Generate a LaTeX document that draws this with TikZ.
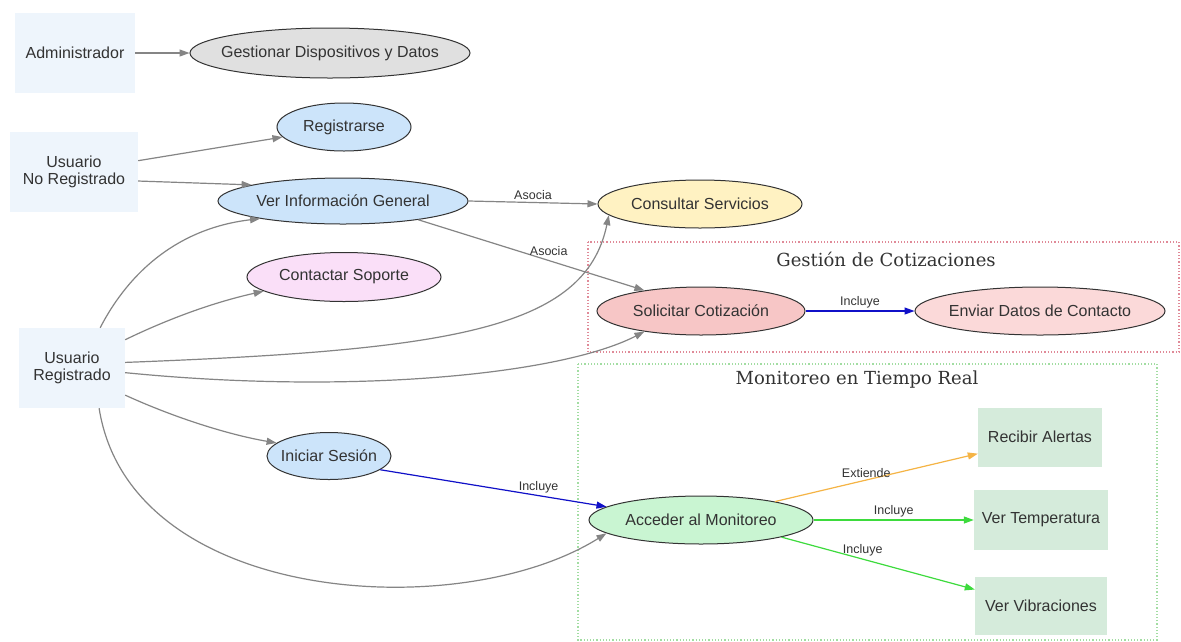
\documentclass[tikz,border=0pt]{standalone}
\usepackage{fontspec}
\setmainfont{Liberation Sans}
\newfontfamily\titlefont{DejaVu Serif}
\usetikzlibrary{shapes.geometric,arrows.meta}
\definecolor{actorfill}{HTML}{EEF5FC}
\definecolor{bluefill}{HTML}{CCE4FA}
\definecolor{grayfill}{HTML}{E0E0E0}
\definecolor{yellowfill}{HTML}{FFF2C2}
\definecolor{lilacfill}{HTML}{FADFF8}
\definecolor{redfill}{HTML}{F7C6C6}
\definecolor{pinkfill}{HTML}{FBD9D9}
\definecolor{greenfill}{HTML}{C9F5D2}
\definecolor{boxgreen}{HTML}{D5EBDB}
\definecolor{edgegray}{HTML}{858585}
\definecolor{edgeblue}{HTML}{1010C8}
\definecolor{edgeorange}{HTML}{F5B445}
\definecolor{edgegreen}{HTML}{3DDB3D}
\definecolor{clred}{HTML}{E08A98}
\definecolor{clgreen}{HTML}{A2DDA2}
\definecolor{ellborder}{HTML}{333333}
\definecolor{txt}{HTML}{333333}
\tikzset{
  nodetext/.style={font=\fontsize{16}{17.5}\selectfont, text=txt, align=center},
  actor/.style={nodetext, rectangle, fill=actorfill, inner sep=0pt},
  usecase/.style={nodetext, ellipse, draw=ellborder, line width=1pt, inner xsep=-60pt, inner ysep=-8pt},
  gbox/.style={nodetext, rectangle, fill=boxgreen, inner sep=0pt},
  conn/.style={line width=1.2pt, -{Triangle[length=10pt,width=7pt]}},
  gray conn/.style={conn, draw=edgegray},
  blue conn/.style={conn, draw=edgeblue},
  orange conn/.style={conn, draw=edgeorange},
  green conn/.style={conn, draw=edgegreen},
  elabel/.style={font=\fontsize{12.5}{14}\selectfont, text=txt, inner sep=2pt},
  cluster/.style={line width=1.2pt, dotted},
  cltitle/.style={font=\titlefont\fontsize{18}{20}\selectfont, text=txt}
}
\begin{document}
\begin{tikzpicture}[x=1pt,y=-1pt]
\useasboundingbox[fill=white] (0,0) rectangle (1181,641);

% clusters
\draw[cluster, draw=clred] (588,242) rectangle (1179,352);
\node[cltitle] (t1) at (886,259) {Gestión de Cotizaciones};
\draw[cluster, draw=clgreen] (578,364) rectangle (1157,640);
\node[cltitle] (t2) at (857,380) {Monitoreo en Tiempo Real};

% actors
\node[actor, minimum width=120pt, minimum height=80pt] (adm) at (75,53) {Administrador};
\node[actor, minimum width=128pt, minimum height=80pt] (unr) at (74,172) {Usuario\\No Registrado};
\node[actor, minimum width=106pt, minimum height=80pt] (ur) at (72,368) {Usuario\\Registrado};

% use cases
\node[usecase, fill=grayfill, minimum width=280pt, minimum height=50pt] (gest) at (330,53) {Gestionar Dispositivos y Datos};
\node[usecase, fill=bluefill, minimum width=134pt, minimum height=48pt] (reg) at (344,127) {Registrarse};
\node[usecase, fill=bluefill, minimum width=250pt, minimum height=46pt] (vi) at (343,201) {Ver Información General};
\node[usecase, fill=yellowfill, minimum width=204pt, minimum height=48pt] (cons) at (700,204) {Consultar Servicios};
\node[usecase, fill=lilacfill, minimum width=194pt, minimum height=49pt] (cs) at (344,277) {Contactar Soporte};
\node[usecase, fill=redfill, minimum width=208pt, minimum height=48pt] (sol) at (701,311) {Solicitar Cotización};
\node[usecase, fill=pinkfill, minimum width=250pt, minimum height=48pt] (env) at (1040,311) {Enviar Datos de Contacto};
\node[usecase, fill=bluefill, minimum width=124pt, minimum height=47pt] (ini) at (329,456) {Iniciar Sesión};
\node[usecase, fill=greenfill, minimum width=224pt, minimum height=48pt] (acc) at (701,520) {Acceder al Monitoreo};

% green boxes
\node[gbox, minimum width=124pt, minimum height=59pt] (rec) at (1040,437) {Recibir Alertas};
\node[gbox, minimum width=134pt, minimum height=60pt] (vt) at (1041,520) {Ver Temperatura};
\node[gbox, minimum width=132pt, minimum height=58pt] (vv) at (1041,606) {Ver Vibraciones};

% connectors
\draw[gray conn] (adm.east) -- (gest.west);
\draw[gray conn] (unr.10) -- (reg);
\draw[gray conn] (unr.-8) -- (vi.170);
\draw[gray conn] (ur.55) .. controls (130,270) and (180,228) .. (vi.192);
\draw[gray conn] (ur.28) .. controls (170,318) and (215,302) .. (cs.190);
\draw[gray conn] (ur.6) .. controls (450,350) and (585,330) .. (cons.187);
\draw[gray conn] (ur.-5) .. controls (350,395) and (560,375) .. (sol.200);
\draw[gray conn] (ur.-27) .. controls (175,418) and (230,435) .. (ini.166);
\draw[gray conn] (ur.-56) .. controls (130,605) and (460,625) .. (acc.188);

\draw[gray conn] (vi.east) -- node[elabel, above] {Asocia} (cons.west);
\draw[gray conn] (vi.-14) -- node[elabel, above, pos=0.55, xshift=6pt] {Asocia} (sol.160);
\draw[blue conn] (sol.east) -- node[elabel, above] {Incluye} (env.west);
\draw[blue conn] (ini.-15) -- node[elabel, above, pos=0.7] {Incluye} (acc.172);
\draw[orange conn] (acc.14) -- node[elabel, above, pos=0.45] {Extiende} (rec.195);
\draw[green conn] (acc.east) -- node[elabel, above] {Incluye} (vt.west);
\draw[green conn] (acc.-12) -- node[elabel, above, pos=0.42] {Incluye} (vv.166);
\end{tikzpicture}
\end{document}
